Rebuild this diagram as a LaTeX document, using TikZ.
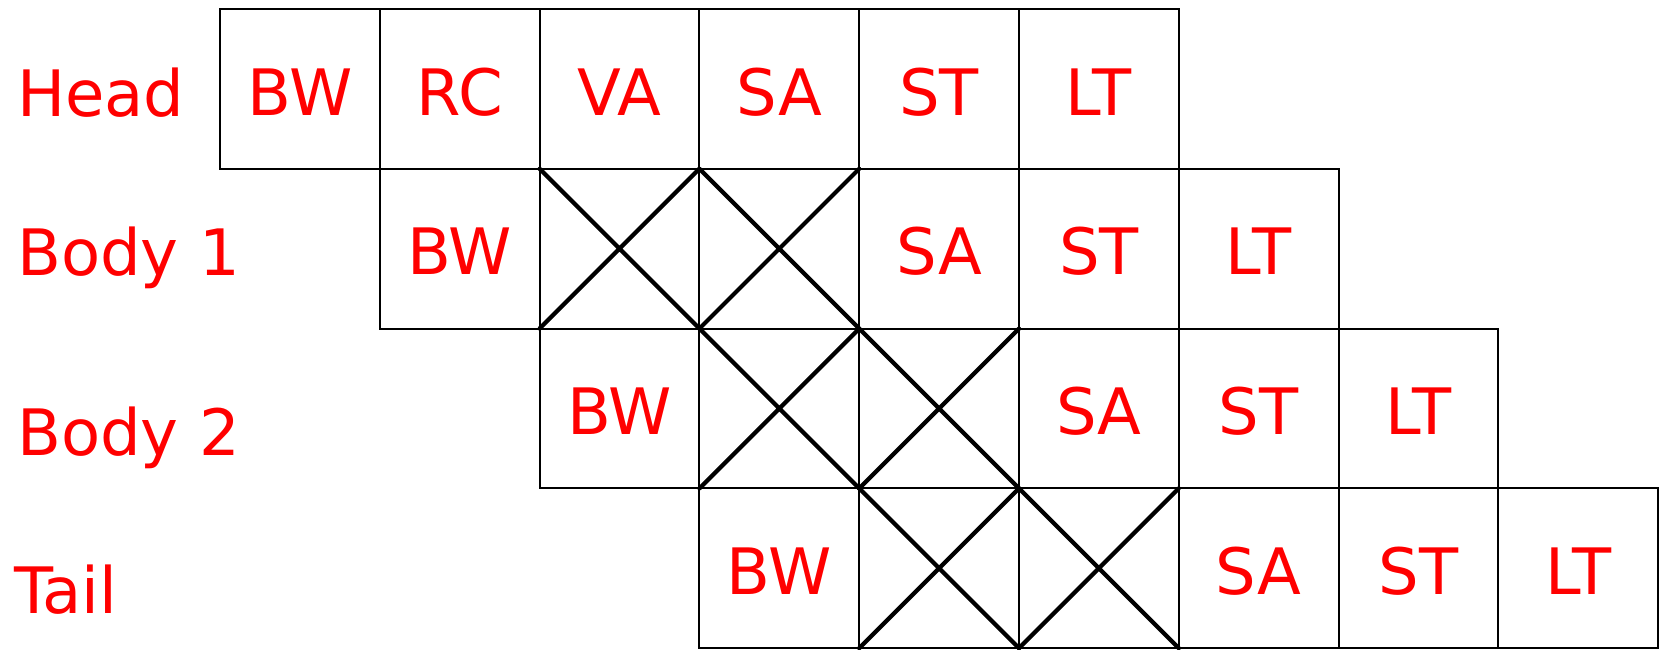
\documentclass[tikz,border=0pt]{standalone}
\usepackage{fontspec}
\setmainfont{DejaVu Sans}
\begin{document}
\begin{tikzpicture}[x=1pt,y=-1pt,
  cell/.style={draw=black, line width=2pt, minimum width=159.8pt, minimum height=159.8pt,
    inner sep=0pt, outer sep=0pt, text=red, text height=52.5pt, text depth=0pt,
    font=\fontsize{64}{70}\selectfont},
  lab/.style={anchor=base west, text=red, inner sep=0pt, font=\fontsize{64}{70}\selectfont},
  cross/.style={line width=4.2pt, line cap=round}]
\useasboundingbox (0,0) rectangle (1660,650);
% row labels
\node[lab] (lhead) at (17,117) {Head};
\node[lab] (lb1) at (17,275) {Body 1};
\node[lab] (lb2) at (17,455) {Body 2};
\node[lab] (ltail) at (14,613) {Tail};
% Head row
\node[cell] (h1) at (299.9,88.9) {BW};
\node[cell] (h2) at (459.7,88.9) {RC};
\node[cell] (h3) at (619.5,88.9) {VA};
\node[cell] (h4) at (779.3,88.9) {SA};
\node[cell] (h5) at (939.1,88.9) {ST};
\node[cell] (h6) at (1098.9,88.9) {LT};
% Body 1 row
\node[cell] (a1) at (459.7,248.7) {BW};
\node[cell] (a2) at (619.5,248.7) {};
\node[cell] (a3) at (779.3,248.7) {};
\node[cell] (a4) at (939.1,248.7) {SA};
\node[cell] (a5) at (1098.9,248.7) {ST};
\node[cell] (a6) at (1258.7,248.7) {LT};
% Body 2 row
\node[cell] (b1) at (619.5,408.5) {BW};
\node[cell] (b2) at (779.3,408.5) {};
\node[cell] (b3) at (939.1,408.5) {};
\node[cell] (b4) at (1098.9,408.5) {SA};
\node[cell] (b5) at (1258.7,408.5) {ST};
\node[cell] (b6) at (1418.5,408.5) {LT};
% Tail row
\node[cell] (t1) at (779.3,568.3) {BW};
\node[cell] (t2) at (939.1,568.3) {};
\node[cell] (t3) at (1098.9,568.3) {};
\node[cell] (t4) at (1258.7,568.3) {SA};
\node[cell] (t5) at (1418.5,568.3) {ST};
\node[cell] (t6) at (1578.3,568.3) {LT};
% crosses
\foreach \n in {a2,a3,b2,b3,t2,t3}{
  \draw[cross] (\n.north west) -- (\n.south east) (\n.south west) -- (\n.north east);
}
\end{tikzpicture}
\end{document}
